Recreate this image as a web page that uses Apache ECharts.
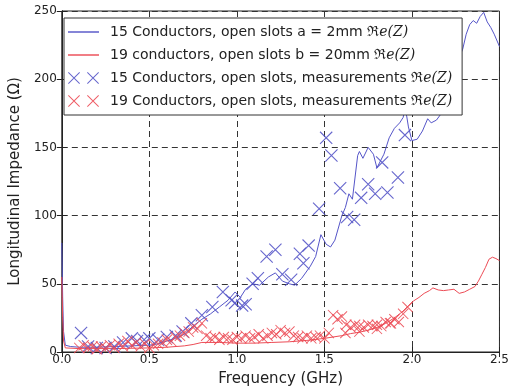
<!DOCTYPE html>
<html>
<head>
<meta charset="utf-8">
<script src="https://cdn.jsdelivr.net/npm/echarts@6/dist/echarts.min.js"></script>
<style>
  html, body { margin: 0; padding: 0; background: #fff; }
  #chart { width: 512px; height: 392px; }
</style>
</head>
<body>
<div id="chart"></div>
<script>
// series names (legend)
const names = [
  '15 Conductors, open slots a = 2mm ℜe(Z)',
  '19 conductors, open slots b = 20mm ℜe(Z)',
  '15 Conductors, open slots, measurements ℜe(Z)',
  '19 Conductors, open slots, measurements ℜe(Z)'
]

const xTicks = [0, 0.5, 1.0, 1.5, 2.0, 2.5]
const yTicks = [0, 50, 100, 150, 200, 250]

// simulation, 15 conductors, [GHz, Ohm]
const sim15 = [
  [0, 80], [0.005, 40], [0.01, 15], [0.02, 5], [0.05, 4], [0.1, 3.5], [0.2, 3.5], [0.3, 4],
  [0.4, 4.5], [0.5, 5], [0.55, 6], [0.6, 8], [0.65, 10], [0.7, 13], [0.75, 19], [0.8, 24],
  [0.85, 28], [0.9, 33], [0.95, 38], [0.99, 44], [1.02, 40], [1.05, 46], [1.09, 50], [1.13, 49],
  [1.18, 55], [1.22, 58], [1.26, 52], [1.3, 50], [1.33, 49], [1.37, 54], [1.42, 63], [1.45, 70],
  [1.48, 86], [1.51, 79], [1.535, 77], [1.56, 82], [1.6, 100], [1.62, 106], [1.64, 116], [1.66, 112],
  [1.69, 144], [1.7, 147], [1.72, 142], [1.75, 150], [1.78, 145], [1.8, 135], [1.84, 145], [1.87, 157],
  [1.9, 164], [1.93, 168], [1.95, 172], [1.96, 178], [1.97, 173], [1.98, 165], [2.0, 155], [2.03, 156],
  [2.06, 162], [2.09, 171], [2.11, 168], [2.14, 170], [2.18, 177], [2.21, 187], [2.25, 201], [2.27, 216],
  [2.29, 222], [2.31, 233], [2.33, 240], [2.35, 243], [2.37, 241], [2.39, 246], [2.41, 249], [2.43, 242],
  [2.45, 238], [2.47, 233], [2.5, 224]
]

// simulation, 19 conductors
const sim19 = [
  [0, 55], [0.005, 25], [0.01, 8], [0.02, 3], [0.1, 2.5], [0.3, 2.5], [0.5, 3], [0.6, 3.5],
  [0.7, 4.5], [0.75, 5.5], [0.8, 7], [0.9, 7], [1.0, 6.5], [1.1, 6.5], [1.2, 7], [1.3, 7.5],
  [1.4, 8.5], [1.5, 10], [1.55, 11], [1.6, 12], [1.65, 13.5], [1.7, 14.5], [1.75, 16], [1.8, 18],
  [1.85, 21], [1.9, 25], [1.95, 30], [1.98, 34], [2.01, 37.5], [2.04, 40], [2.07, 43], [2.1, 45],
  [2.12, 47], [2.15, 45.5], [2.18, 45], [2.21, 45.5], [2.24, 46], [2.27, 43], [2.3, 44], [2.33, 46],
  [2.36, 48], [2.38, 52], [2.4, 57], [2.42, 62], [2.44, 68], [2.46, 69.5], [2.48, 68.5], [2.5, 67]
]

// measurements, 15 conductors
const meas15 = [
  [0.11, 14], [0.15, 4], [0.2, 3], [0.25, 3], [0.3, 4], [0.35, 7], [0.4, 10], [0.43, 8],
  [0.47, 9], [0.5, 10], [0.55, 9], [0.6, 11], [0.65, 12], [0.69, 15], [0.74, 21], [0.8, 27],
  [0.86, 33], [0.92, 44], [0.97, 38], [0.99, 36], [1.03, 34], [1.05, 35], [1.09, 50], [1.12, 54],
  [1.17, 70], [1.22, 75], [1.26, 57], [1.31, 53], [1.36, 72], [1.38, 65], [1.41, 78], [1.47, 105],
  [1.51, 157], [1.54, 144], [1.59, 120], [1.63, 99], [1.67, 97], [1.71, 113], [1.75, 123], [1.79, 116],
  [1.83, 139], [1.86, 117], [1.92, 128], [1.96, 159]
]

// measurements, 19 conductors
const meas19 = [
  [0.1, 3], [0.125, 5], [0.15, 3], [0.175, 4], [0.2, 2], [0.225, 4], [0.25, 3], [0.275, 5],
  [0.3, 3], [0.325, 6], [0.35, 4], [0.375, 8], [0.4, 5], [0.425, 7], [0.45, 4], [0.475, 6],
  [0.5, 3], [0.525, 5], [0.55, 6], [0.575, 7], [0.6, 9], [0.625, 8], [0.65, 11], [0.675, 12],
  [0.7, 14], [0.725, 15], [0.75, 18], [0.775, 17], [0.8, 21], [0.825, 12], [0.85, 10], [0.875, 11],
  [0.9, 9], [0.925, 11], [0.95, 10], [0.975, 9], [1.0, 11], [1.025, 10], [1.05, 12], [1.075, 10],
  [1.1, 11], [1.125, 13], [1.15, 10], [1.175, 12], [1.2, 14], [1.225, 13], [1.25, 16], [1.275, 14],
  [1.3, 15], [1.325, 12], [1.35, 11], [1.375, 10], [1.4, 12], [1.425, 10], [1.45, 11], [1.475, 12],
  [1.5, 10], [1.525, 14], [1.55, 27], [1.575, 24], [1.6, 26], [1.625, 20], [1.65, 18], [1.675, 20],
  [1.7, 19], [1.725, 18], [1.75, 20], [1.775, 19], [1.8, 20], [1.825, 19], [1.85, 22], [1.875, 21],
  [1.9, 24], [1.925, 22], [1.95, 28], [1.975, 33],
  [1.62, 14], [1.7, 15], [1.8, 17], [1.88, 21]
]

const blue = '#5555c8'
const red = '#ec4b55'
const axisColor = '#222'
const cross = 'path://M0,0.6L0.6,0L10,9.4L9.4,10ZM9.4,0L10,0.6L0.6,10L0,9.4Z'
const crossPair = 'path://M0,0.7L0.7,0L12,11.3L11.3,12ZM11.3,0L12,0.7L0.7,12L0,11.3Z' +
  'M19,0.7L19.7,0L31,11.3L30.3,12ZM30.3,0L31,0.7L19.7,12L19,11.3Z'
const lineIcon = 'path://M0,0L26,0L26,1.2L0,1.2Z'

const chart = echarts.init(document.getElementById('chart'))

const gridLine = { show: true, lineStyle: { color: '#333', type: [6, 4], width: 1 } }
const insideTick = { show: true, inside: true, length: 5, lineStyle: { color: axisColor } }

const option = {
  animation: false,
  textStyle: { fontFamily: 'DejaVu Sans' },
  grid: { left: 58, right: 8, top: 11, bottom: 35, show: true, borderColor: axisColor, borderWidth: 1 },
  legend: {
    orient: 'vertical',
    left: 64,
    top: 18,
    padding: [7, 10, 7, 4],
    itemGap: 9,
    itemWidth: 31,
    itemHeight: 12,
    symbolKeepAspect: true,
    backgroundColor: '#fff',
    borderColor: '#333',
    borderWidth: 1,
    textStyle: {
      fontSize: 14,
      color: '#222',
      padding: [0, 0, 0, 6],
      rich: {
        m: { fontSize: 14, fontFamily: 'DejaVu Serif', color: '#222' },
        i: { fontSize: 14, fontFamily: 'DejaVu Serif', fontStyle: 'italic', color: '#222' }
      }
    },
    formatter: name => name.replace('ℜe(Z)', '{m|ℜ}{i|e(Z)}'),
    data: [
      { name: names[0], icon: lineIcon },
      { name: names[1], icon: lineIcon },
      { name: names[2], icon: crossPair },
      { name: names[3], icon: crossPair }
    ]
  },
  xAxis: [
    {
      type: 'value', min: 0, max: 2.5, interval: 0.5,
      name: 'Frequency (GHz)', nameLocation: 'middle', nameGap: 20,
      nameTextStyle: { fontSize: 15, color: '#222' },
      axisLine: { show: true, lineStyle: { color: axisColor } },
      axisTick: insideTick,
      axisLabel: { fontSize: 12, color: '#222', margin: 2, formatter: v => v.toFixed(1) },
      splitLine: gridLine
    },
    {
      type: 'value', min: 0, max: 2.5, interval: 0.5, position: 'top',
      axisLine: { show: true, lineStyle: { color: axisColor } },
      axisTick: insideTick, axisLabel: { show: false }, splitLine: { show: false }
    }
  ],
  yAxis: [
    {
      type: 'value', min: 0, max: 250, interval: 50,
      name: 'Longitudinal Impedance (Ω)', nameLocation: 'middle', nameGap: 34, nameRotate: 90,
      nameTextStyle: { fontSize: 15, color: '#222' },
      axisLine: { show: true, lineStyle: { color: axisColor } },
      axisTick: insideTick,
      axisLabel: { fontSize: 12, color: '#222', margin: 5 },
      splitLine: gridLine
    },
    {
      type: 'value', min: 0, max: 250, interval: 50, position: 'right',
      axisLine: { show: true, lineStyle: { color: axisColor } },
      axisTick: insideTick, axisLabel: { show: false }, splitLine: { show: false }
    }
  ],
  series: [
    {
      name: names[0], type: 'line', data: sim15, symbol: 'none', z: 3,
      lineStyle: { color: blue, width: 1 }, itemStyle: { color: blue }
    },
    {
      name: names[1], type: 'line', data: sim19, symbol: 'none', z: 3,
      lineStyle: { color: red, width: 1 }, itemStyle: { color: red }
    },
    {
      name: names[2], type: 'scatter', data: meas15, symbol: cross, symbolSize: 13, z: 4,
      itemStyle: { color: blue, opacity: 0.9 }
    },
    {
      name: names[3], type: 'scatter', data: meas19, symbol: cross, symbolSize: 11, z: 4,
      itemStyle: { color: red, opacity: 0.9 }
    }
  ]
}

chart.setOption(option)
</script>
</body>
</html>
